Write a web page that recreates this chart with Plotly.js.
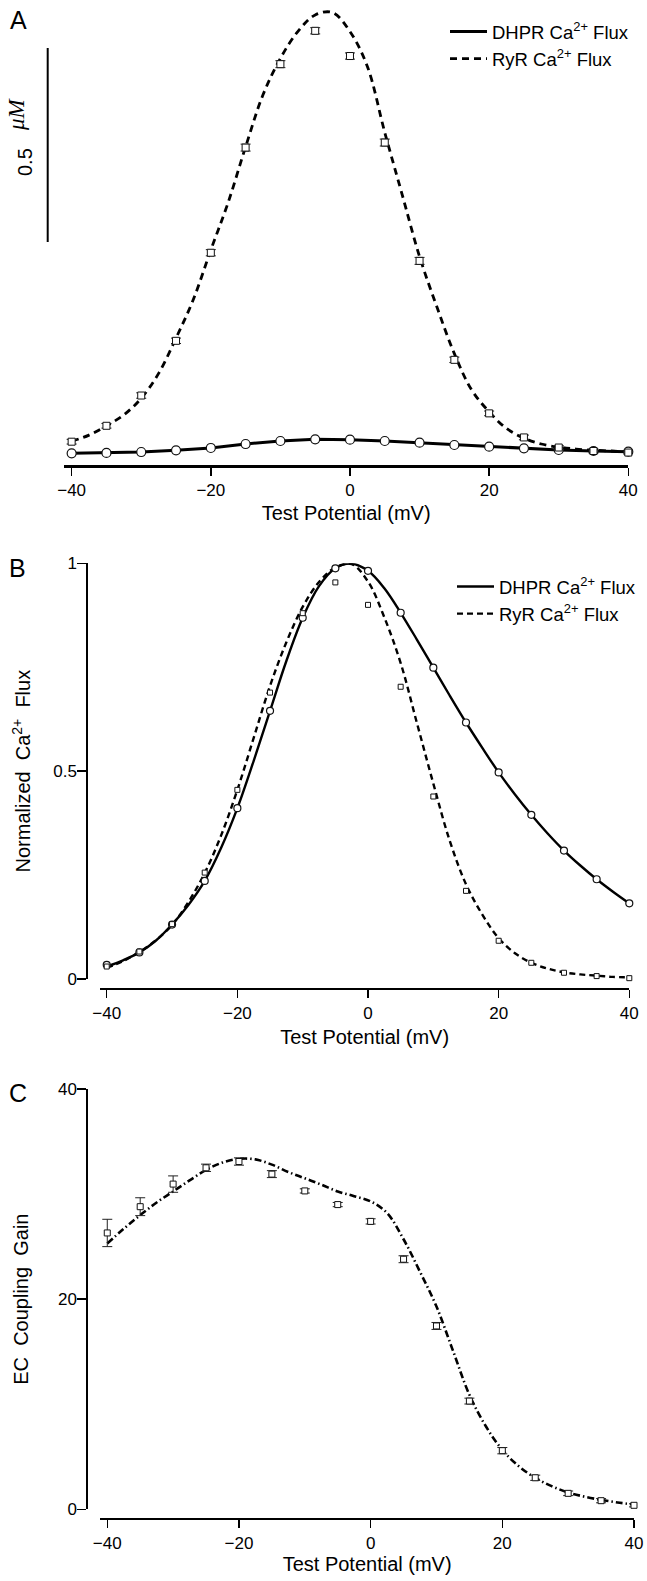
<!DOCTYPE html>
<html><head><meta charset="utf-8">
<script src="https://cdn.plot.ly/plotly-3.0.1.min.js"></script>
<style>html,body{margin:0;padding:0;background:#fff}#chart{width:647px;height:1581px}</style>
</head><body><div id="chart"></div>
<script>
// ---------- data ----------
const potentials = [-40,-35,-30,-25,-20,-15,-10,-5,0,5,10,15,20,25,30,35,40];
const fitPotentials = [-40,-37.5,-35,-32.5,-30,-27.5,-25,-22.5,-20,-17.5,-15,-12.5,-10,-7.5,-5,-2.5,0,2.5,5,7.5,10,12.5,15,17.5,20,22.5,25,27.5,30,32.5,35,37.5,40];

// Panel A (uM)
const dhprFluxA = [0.003,0.004,0.0064,0.0108,0.0168,0.027,0.0348,0.0392,0.0381,0.0348,0.0304,0.0245,0.0201,0.016,0.0116,0.009,0.0072];
const ryrFluxA = [0.033,0.074,0.152,0.293,0.520,0.791,1.006,1.092,1.027,0.804,0.499,0.244,0.106,0.044,0.018,0.009,0.005];
const ryrFluxErrA = [0.006,0.006,0.007,0.007,0.008,0.009,0.009,0.008,0.008,0.009,0.009,0.007,0.006,0.006,0.005,0.005,0.004];
const ryrFitA = [0.034,0.050,0.074,0.102,0.145,0.209,0.300,0.400,0.527,0.650,0.793,0.927,1.021,1.090,1.133,1.139,1.090,1.000,0.830,0.670,0.510,0.380,0.260,0.166,0.110,0.067,0.042,0.027,0.019,0.014,0.011,0.009,0.007];

// Panel B (normalized)
const dhprNormB = [0.034,0.064,0.131,0.236,0.411,0.645,0.869,0.988,0.982,0.881,0.749,0.617,0.497,0.395,0.309,0.240,0.182];
const ryrNormB = [0.030,0.066,0.132,0.256,0.455,0.689,0.880,0.954,0.900,0.703,0.439,0.212,0.092,0.039,0.015,0.007,0.002];
const dhprFitB = [0.030,0.045,0.064,0.092,0.131,0.178,0.236,0.315,0.411,0.525,0.645,0.765,0.869,0.945,0.988,0.999,0.982,0.940,0.881,0.816,0.749,0.682,0.617,0.556,0.497,0.444,0.395,0.350,0.309,0.273,0.240,0.210,0.182];
const ryrFitB = [0.027,0.043,0.065,0.093,0.130,0.185,0.255,0.345,0.455,0.580,0.705,0.810,0.895,0.955,0.990,0.998,0.956,0.870,0.760,0.615,0.470,0.333,0.228,0.155,0.098,0.062,0.039,0.025,0.016,0.011,0.008,0.005,0.004];

// Panel C (EC coupling gain)
const gainC = [26.3,28.8,30.95,32.5,33.1,31.9,30.3,29.0,27.4,23.8,17.45,10.3,5.58,3.0,1.52,0.82,0.38];
const gainErrC = [1.3,0.85,0.78,0.35,0.35,0.33,0.2,0.2,0.25,0.33,0.33,0.28,0.3,0.25,0.22,0.2,0.15];
const gainFitC = [25.3,26.7,28.0,29.2,30.25,31.3,32.3,33.0,33.35,33.3,32.8,32.1,31.5,30.9,30.25,29.8,29.3,28.2,25.7,22.6,19.3,15.1,10.9,7.9,5.65,4.1,3.0,2.2,1.6,1.2,0.9,0.65,0.45];

const xTickVals = [-40,-20,0,20,40];
const xTickText = ['\u221240','\u221220','0','20','40'];
const yTickValsB = [0,0.5,1];
const yTickTextB = ['0','0.5','1'];
const yTickValsC = [0,20,40];
const yTickTextC = ['0','20','40'];

// ---------- layout helpers (pixel -> paper) ----------
const W = 647, H = 1581;
const fx = v => v / W;
const fy = v => 1 - v / H;
const FONT = 'Liberation Sans, Arial, Helvetica, sans-serif';
const NB = '\u00a0';

// Panel A vertical scale: zero at pixel 454.5, 388 px per uM
const aZero = 454.5, aScale = 388, aBottom = 465, aTop = 0;
const aRange = [-(aBottom - aZero) / aScale, (aZero - aTop) / aScale];
const scaleBarBase = (aZero - 242) / aScale;

const errStyle = (arr) => ({type:'data', array:arr, visible:true, color:'#222', thickness:1, width:5});
const openSquare = (size) => ({symbol:'square', size:size, color:'#fff', line:{color:'#111', width:1}});
const openCircle = (size) => ({symbol:'circle', size:size, color:'#fff', line:{color:'#111', width:1.2}});

const traces = [
  // ---- A ----
  {x:fitPotentials, y:ryrFitA, xaxis:'x', yaxis:'y', mode:'lines', name:'RyR Ca<sup>2+</sup> Flux', legend:'legend',
   line:{color:'#000', width:2.8, dash:'7px,5px', shape:'spline', smoothing:1}, legendrank:2},
  {x:potentials, y:dhprFluxA, xaxis:'x', yaxis:'y', mode:'lines', name:'DHPR Ca<sup>2+</sup> Flux', legend:'legend',
   line:{color:'#000', width:3}, legendrank:1},
  {x:potentials, y:dhprFluxA, xaxis:'x', yaxis:'y', mode:'markers', showlegend:false, marker:openCircle(9), cliponaxis:false},
  {x:potentials, y:ryrFluxA, xaxis:'x', yaxis:'y', mode:'markers', showlegend:false, marker:openSquare(7),
   error_y:errStyle(ryrFluxErrA), cliponaxis:false},
  // ---- B ----
  {x:fitPotentials, y:dhprFitB, xaxis:'x2', yaxis:'y2', mode:'lines', name:'DHPR Ca<sup>2+</sup> Flux', legend:'legend2',
   line:{color:'#000', width:2.4, shape:'spline', smoothing:1}, legendrank:1},
  {x:fitPotentials, y:ryrFitB, xaxis:'x2', yaxis:'y2', mode:'lines', name:'RyR Ca<sup>2+</sup> Flux', legend:'legend2',
   line:{color:'#000', width:2.4, dash:'6px,4px', shape:'spline', smoothing:1}, legendrank:2},
  {x:potentials, y:dhprNormB, xaxis:'x2', yaxis:'y2', mode:'markers', showlegend:false, marker:openCircle(7), cliponaxis:false},
  {x:potentials, y:ryrNormB, xaxis:'x2', yaxis:'y2', mode:'markers', showlegend:false, marker:openSquare(5), cliponaxis:false},
  // ---- C ----
  {x:fitPotentials, y:gainFitC, xaxis:'x3', yaxis:'y3', mode:'lines', showlegend:false,
   line:{color:'#000', width:2.6, dash:'7px,3px,1.5px,3px', shape:'spline', smoothing:1}},
  {x:potentials, y:gainC, xaxis:'x3', yaxis:'y3', mode:'markers', showlegend:false, marker:openSquare(6),
   error_y:errStyle(gainErrC), cliponaxis:false}
];

const xCommon = {
  tickmode:'array', tickvals:xTickVals, ticktext:xTickText, ticks:'outside', ticklen:8, tickwidth:1.5,
  tickcolor:'#000', showline:true, linecolor:'#000', showgrid:false, zeroline:false,
  tickfont:{size:17, color:'#000'}, fixedrange:true
};
const yCommon = {
  tickmode:'array', ticks:'outside', ticklen:9, tickwidth:1.5, tickcolor:'#000',
  showline:true, linecolor:'#000', linewidth:2, showgrid:false, zeroline:false,
  tickfont:{size:17, color:'#000'}, fixedrange:true, ticklabelstandoff:-3
};

const layout = {
  width:W, height:H, margin:{l:0,r:0,t:0,b:0}, paper_bgcolor:'#fff', plot_bgcolor:'rgba(0,0,0,0)',
  font:{family:FONT, color:'#000'}, showlegend:true, hovermode:false,
  // A
  xaxis:Object.assign({}, xCommon, {domain:[fx(64), fx(628.3)], range:[-41.1, 40], anchor:'y', linewidth:2.5,
    title:{text:'Test Potential (mV)', font:{size:20}, standoff:7}}),
  yaxis:{domain:[fy(aBottom), fy(aTop)], range:aRange, visible:false, fixedrange:true},
  // B
  xaxis2:Object.assign({}, xCommon, {domain:[fx(100), fx(629.3)], range:[-41.03, 40], anchor:'free', position:fy(989.3), linewidth:2,
    title:{text:'Test Potential (mV)', font:{size:20}, standoff:7}}),
  yaxis2:Object.assign({}, yCommon, {domain:[fy(979), fy(563.3)], range:[0,1], anchor:'free', position:fx(87.3),
    tickvals:yTickValsB, ticktext:yTickTextB,
    title:{text:'Normalized'+NB+NB+'Ca<sup>2+</sup>'+NB+NB+'Flux', font:{size:20}, standoff:16}}),
  // C
  xaxis3:Object.assign({}, xCommon, {domain:[fx(100.3), fx(634)], range:[-41.06, 40], anchor:'free', position:fy(1519.3), linewidth:2,
    title:{text:'Test Potential (mV)', font:{size:20}, standoff:0}}),
  yaxis3:Object.assign({}, yCommon, {domain:[fy(1509.3), fy(1089)], range:[0,40], anchor:'free', position:fx(87.3),
    tickvals:yTickValsC, ticktext:yTickTextC,
    title:{text:'EC'+NB+NB+'Coupling'+NB+NB+'Gain', font:{size:20}, standoff:23}}),
  legend:{x:fx(445), y:fy(13), xanchor:'left', yanchor:'top', bgcolor:'rgba(0,0,0,0)', borderwidth:0,
    font:{size:18.5, color:'#000'}, itemwidth:37, traceorder:'normal'},
  legend2:{x:fx(452), y:fy(568), xanchor:'left', yanchor:'top', bgcolor:'rgba(0,0,0,0)', borderwidth:0,
    font:{size:18.5, color:'#000'}, itemwidth:37, traceorder:'normal'},
  shapes:[
    {type:'line', xref:'paper', yref:'y', x0:fx(47.7), x1:fx(47.7), y0:scaleBarBase, y1:scaleBarBase + 0.5,
     line:{color:'#000', width:2}}
  ],
  annotations:[
    {xref:'paper', yref:'paper', x:fx(18), y:fy(20), xanchor:'center', yanchor:'middle', text:'A', showarrow:false, font:{size:25, color:'#000'}},
    {xref:'paper', yref:'paper', x:fx(17), y:fy(568), xanchor:'center', yanchor:'middle', text:'B', showarrow:false, font:{size:25, color:'#000'}},
    {xref:'paper', yref:'paper', x:fx(18), y:fy(1093), xanchor:'center', yanchor:'middle', text:'C', showarrow:false, font:{size:25, color:'#000'}},
    {xref:'paper', yref:'paper', x:fx(25), y:fy(162), xanchor:'center', yanchor:'middle', textangle:-90, showarrow:false,
     text:'0.5', font:{size:20, color:'#000'}},
    {xref:'paper', yref:'paper', x:fx(16), y:fy(114), xanchor:'center', yanchor:'middle', textangle:-90, showarrow:false,
     text:'<i>\u03bcM</i>', font:{size:23, color:'#000', family:'Liberation Serif, DejaVu Serif, serif'}}
  ]
};

Plotly.newPlot('chart', traces, layout, {staticPlot:true, displayModeBar:false});
</script>
</body></html>
